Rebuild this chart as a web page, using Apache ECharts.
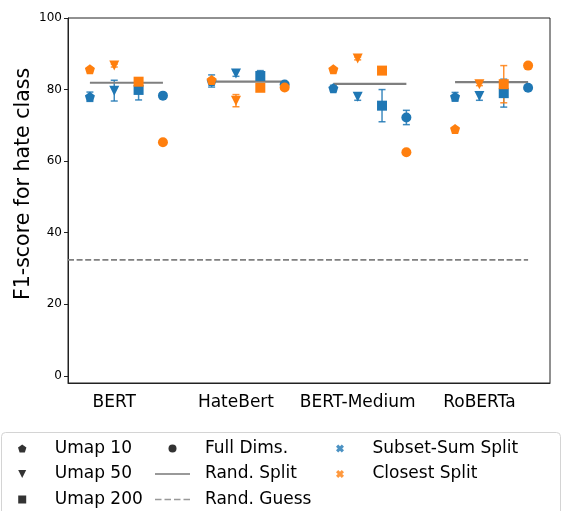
<!DOCTYPE html>
<html><head><meta charset="utf-8">
<script src="https://cdn.jsdelivr.net/npm/echarts@6/dist/echarts.min.js"></script>
<style>html,body{margin:0;padding:0;background:#fff}#c{width:562px;height:511px}</style>
</head><body><div id="c"></div>
<script>
// ---- data ----
const categories = ['BERT', 'HateBert', 'BERT-Medium', 'RoBERTa'];
const methods = ['Umap 10', 'Umap 50', 'Umap 200', 'Full Dims.'];

const subsetUmap10 = [78.0, 82.4, 80.4, 78.0];
const subsetUmap10Err = [1.3, 1.7, 0.8, 1.2];
const subsetUmap50 = [79.7, 84.5, 78.0, 78.2];
const subsetUmap50Err = [2.9, 0.8, 1.0, 1.2];
const subsetUmap200 = [79.9, 83.8, 75.5, 79.0];
const subsetUmap200Err = [2.8, 1.5, 4.5, 3.9];
const subsetFull = [78.3, 81.4, 72.2, 80.5];
const subsetFullErr = [0, 0.4, 2.0, 0];

const closestUmap10 = [85.7, 82.7, 85.7, 69.0];
const closestUmap10Err = [0.4, 0.4, 0.4, 0.4];
const closestUmap50 = [86.7, 76.9, 88.7, 81.5];
const closestUmap50Err = [0.4, 1.7, 0.4, 0.4];
const closestUmap200 = [82.2, 80.5, 85.3, 81.5];
const closestUmap200Err = [0.6, 0.4, 1.0, 5.2];
const closestFull = [65.3, 80.6, 62.5, 86.7];
const closestFullErr = [0, 0, 0, 0];

const randSplit = [81.9, 82.2, 81.6, 82.1];
const randGuess = 32.4;

const yTicks = [0, 20, 40, 60, 80, 100];

// ---- layout / style ----
const BLUE = '#1f77b4', ORANGE = '#ff7f0e', GRAY = '#7f7f7f';
const methodOffset = [-0.2, 0, 0.2, 0.4];
const xMin = -0.38, xMax = 3.58;
const PENT = 'path://M0,-1 L0.951,-0.309 L0.588,0.809 L-0.588,0.809 L-0.951,-0.309 Z';
const SQUARE = 'path://M0,0 L1,0 L1,1 L0,1 Z';
const TRI_DOWN = 'path://M-1,-1 L1,-1 L0,1 Z';
const XMARK = 'path://M-1,-0.45 L-0.45,-1 L0,-0.55 L0.45,-1 L1,-0.45 L0.55,0 L1,0.45 L0.45,1 L0,0.55 L-0.45,1 L-1,0.45 L-0.55,0 Z';
const symbols = [
  {symbol: PENT, size: 10, rotate: 0},
  {symbol: 'triangle', size: 10, rotate: 180},
  {symbol: 'rect', size: 10, rotate: 0},
  {symbol: 'circle', size: 10, rotate: 0}
];

const subsetVals = [subsetUmap10, subsetUmap50, subsetUmap200, subsetFull];
const subsetErrs = [subsetUmap10Err, subsetUmap50Err, subsetUmap200Err, subsetFullErr];
const closestVals = [closestUmap10, closestUmap50, closestUmap200, closestFull];
const closestErrs = [closestUmap10Err, closestUmap50Err, closestUmap200Err, closestFullErr];

function errData(vals, errs) {
  const out = [];
  vals.forEach((arr, m) => arr.forEach((v, i) => out.push([i + methodOffset[m], v, errs[m][i]])));
  return out;
}
function errRender(color) {
  return function (params, api) {
    const x = api.value(0), m = api.value(1), e = api.value(2);
    if (!e) return null;
    const t = api.coord([x, m + e]), b = api.coord([x, m - e]);
    const cap = 3.5, st = {stroke: color, lineWidth: 1.5, opacity: 0.85};
    return {type: 'group', children: [
      {type: 'line', shape: {x1: t[0], y1: t[1], x2: b[0], y2: b[1]}, style: st},
      {type: 'line', shape: {x1: t[0] - cap, y1: t[1], x2: t[0] + cap, y2: t[1]}, style: st},
      {type: 'line', shape: {x1: b[0] - cap, y1: b[1], x2: b[0] + cap, y2: b[1]}, style: st}
    ]};
  };
}
function scatterSeries(vals, color, z) {
  return vals.map((arr, m) => ({
    type: 'scatter', name: '_s' + color + m, z: z,
    symbol: symbols[m].symbol, symbolSize: symbols[m].size, symbolRotate: symbols[m].rotate,
    itemStyle: {color: color, opacity: 1},
    data: arr.map((v, i) => [i + methodOffset[m], v]),
    silent: true
  }));
}

const series = [];
series.push({
  type: 'custom', name: '_errB', z: 2, renderItem: errRender(BLUE),
  encode: {x: 0, y: 1}, data: errData(subsetVals, subsetErrs), silent: true
});
series.push({
  type: 'custom', name: '_errO', z: 2, renderItem: errRender(ORANGE),
  encode: {x: 0, y: 1}, data: errData(closestVals, closestErrs), silent: true
});
series.push({
  type: 'custom', name: '_split', z: 3,
  renderItem: function (params, api) {
    const i = api.value(0), v = api.value(1);
    const a = api.coord([i + methodOffset[0], v]), b = api.coord([i + methodOffset[3], v]);
    return {type: 'line', shape: {x1: a[0], y1: a[1], x2: b[0], y2: b[1]}, style: {stroke: GRAY, lineWidth: 2.2}};
  },
  encode: {x: 0, y: 1}, data: randSplit.map((v, i) => [i, v]), silent: true
});
series.push({
  type: 'custom', name: '_guess', z: 3,
  renderItem: function (params, api) {
    const a = api.coord([xMin, api.value(1)]), b = api.coord([categories.length - 1 + methodOffset[3], api.value(1)]);
    return {type: 'line', shape: {x1: a[0], y1: a[1], x2: b[0], y2: b[1]}, style: {stroke: GRAY, lineWidth: 1.6, lineDash: [6, 2.6]}};
  },
  encode: {x: 0, y: 1}, data: [[0, randGuess]], silent: true
});
scatterSeries(subsetVals, BLUE, 5).forEach(s => series.push(s));
scatterSeries(closestVals, ORANGE, 6).forEach(s => series.push(s));

// dummy series for legends
const legendNames = methods.concat(['Rand. Split', 'Rand. Guess', 'Subset-Sum Split', 'Closest Split']);
legendNames.forEach(n => series.push({type: 'scatter', name: n, data: [], itemStyle: {color: '#000'}}));

const LINE_SOLID = 'path://M0,0h35v2h-35z';
const LINE_DASH = 'path://M0,0h6.5v1.6h-6.5z M9.5,0h6.5v1.6h-6.5z M19,0h6.5v1.6h-6.5z M28.5,0h6.5v1.6h-6.5z';
const legendCommon = {
  orient: 'vertical', top: 440, padding: 0, itemGap: 8.5, itemWidth: 35, itemHeight: 8,
  selectedMode: false,
  textStyle: {fontFamily: 'DejaVu Sans', fontSize: 17, color: '#000', lineHeight: 17, padding: [0, 0, 0, 10]}
};

const chart = echarts.init(document.getElementById('c'), null, {renderer: 'canvas'});
chart.setOption({
  animation: false,
  backgroundColor: '#fff',
  grid: {left: 68, right: 12, top: 18, bottom: 128, show: true, borderColor: '#222', borderWidth: 1},
  xAxis: {
    type: 'value', min: xMin, max: xMax,
    axisLine: {show: true, onZero: false, lineStyle: {color: '#222', width: 1}},
    axisTick: {show: false},
    splitLine: {show: false},
    axisLabel: {
      customValues: [0, 1, 2, 3],
      formatter: v => categories[Math.round(v)],
      fontFamily: 'DejaVu Sans', fontSize: 17, color: '#000', margin: 11
    }
  },
  yAxis: {
    type: 'value', min: -2, max: 100,
    axisLine: {show: true, onZero: false, lineStyle: {color: '#222', width: 1}},
    axisTick: {show: true, customValues: yTicks, length: 4, lineStyle: {color: '#222'}},
    splitLine: {show: false},
    axisLabel: {customValues: yTicks, fontFamily: 'DejaVu Sans', fontSize: 12, color: '#000', margin: 6}
  },
  legend: [
    Object.assign({}, legendCommon, {left: 18, data: [
      {name: 'Umap 10', icon: PENT, itemStyle: {color: '#000'}},
      {name: 'Umap 50', icon: TRI_DOWN, itemStyle: {color: '#000'}},
      {name: 'Umap 200', icon: SQUARE, itemStyle: {color: '#000'}}
    ]}),
    Object.assign({}, legendCommon, {left: 155, data: [
      {name: 'Full Dims.', icon: 'circle', itemStyle: {color: '#000'}},
      {name: 'Rand. Split', icon: LINE_SOLID, itemStyle: {color: GRAY}},
      {name: 'Rand. Guess', icon: LINE_DASH, itemStyle: {color: GRAY}}
    ]}),
    Object.assign({}, legendCommon, {left: 336, data: [
      {name: 'Subset-Sum Split', icon: XMARK, itemStyle: {color: BLUE}},
      {name: 'Closest Split', icon: XMARK, itemStyle: {color: ORANGE}}
    ]})
  ],
  graphic: [
    {type: 'rect', z: -10, shape: {x: 1.5, y: 432.5, width: 559, height: 100, r: 4},
     style: {fill: '#fff', stroke: '#d4d4d4', lineWidth: 1}},
    {type: 'text', x: 24, y: 184, rotation: Math.PI / 2,
     style: {text: 'F1-score for hate class', font: '20.5px "DejaVu Sans"', fill: '#000', align: 'center', verticalAlign: 'middle'}}
  ],
  series: series
});
</script>
</body></html>
